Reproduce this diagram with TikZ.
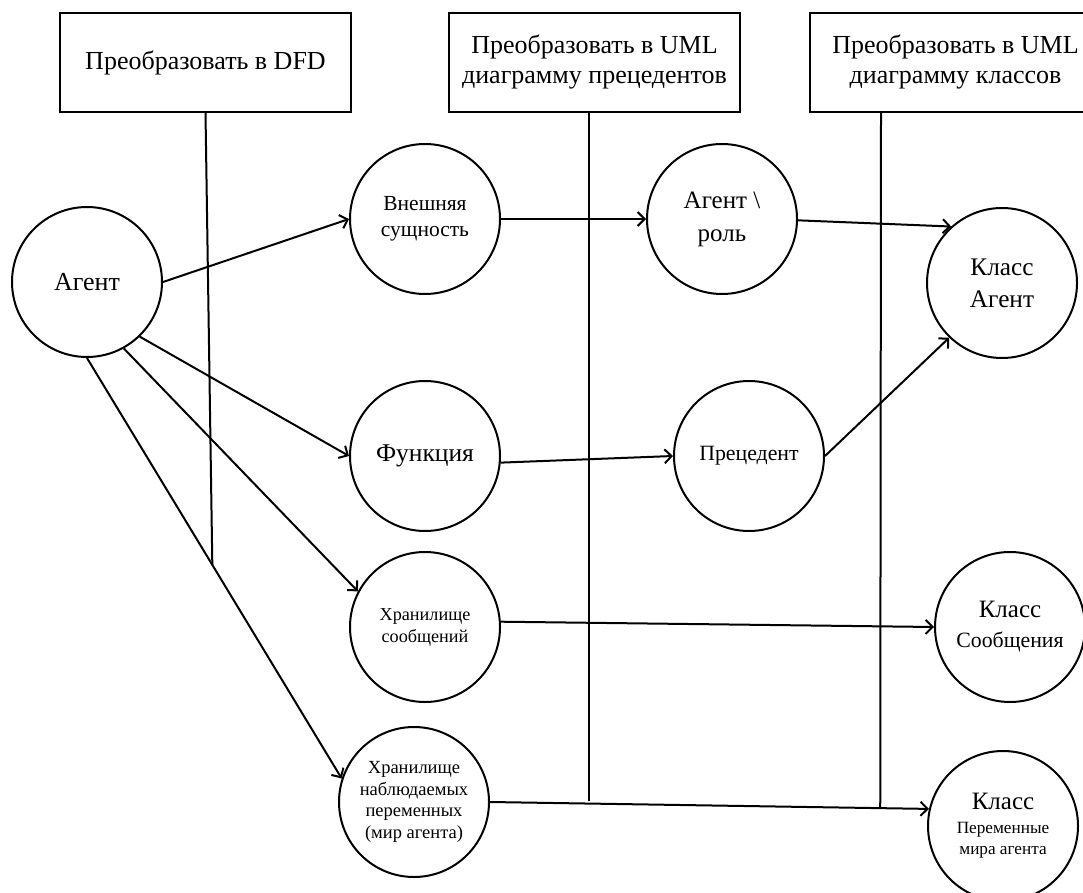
\documentclass[tikz,border=0pt]{standalone}
\usepackage{fontspec}
\setmainfont{Liberation Serif}
\usetikzlibrary{arrows.meta,calc}
\begin{document}
\begin{tikzpicture}[x=1pt,y=-1pt,
  line width=2pt,
  stage/.style={draw, minimum width=291pt, minimum height=99pt, inner sep=0pt,
    align=center, font=\fontsize{26}{30}\selectfont},
  entity/.style={draw, circle, minimum size=150pt, inner sep=0pt, align=center},
  flow/.style={-{Straight Barb[length=7pt,width=14pt]}},
]
\useasboundingbox (0,0) rectangle (1083,893);

% transformation stages
\node[stage] (dfd) at (205.5,62.5) {Преобразовать в DFD};
\node[stage] (uc)  at (594.5,62.5) {Преобразовать в UML\\диаграмму прецедентов};
\node[stage] (cls) at (955.5,62.5) {Преобразовать в UML\\диаграмму классов};

% concepts
\node[entity, font=\fontsize{26}{30}\selectfont] (agent) at (87,282) {Агент};
\node[entity, font=\fontsize{21.5}{26}\selectfont] (ext) at (425,219) {Внешняя\\сущность};
\node[entity, font=\fontsize{25.5}{30}\selectfont] (func) at (425,456) {Функция};
\node[entity, font=\fontsize{18.2}{22}\selectfont] (msg) at (425,627) {Хранилище\\сообщений};
\node[entity, font=\fontsize{18.5}{21.6}\selectfont] (obs) at (414,802)
  {Хранилище\\наблюдаемых\\переменных\\(мир агента)};
\node[entity, font=\fontsize{25}{33}\selectfont] (role) at (722,219) {Агент \textbackslash\\роль};
\node[entity, font=\fontsize{21.8}{26}\selectfont] (prec) at (749,456) {Прецедент};
\node[entity, font=\fontsize{25.3}{32}\selectfont] (cagent) at (1002,283) {Класс\\Агент};
\node[entity, font=\fontsize{21.8}{30}\selectfont] (cmsg) at (1010,627)
  {{\fontsize{25}{30}\selectfont Класс}\\Сообщения};
\node[entity, font=\fontsize{17.2}{24}\selectfont] (cvar) at (1003,826)
  {{\fontsize{25}{30}\selectfont Класс}\\Переменные\\[-3pt]мира агента};

% flows
\draw[flow] (agent.0)   -- (ext.180);
\draw[flow] (agent.-46) -- (func.180);
\draw[flow] (agent.-61) -- (msg.152);
\draw[flow] (agent.-90) -- (obs.162);
\draw[flow] (ext.0)     -- (role.180);
\draw[flow] (func.-5)   -- (prec.180);
\draw[flow] (role.-1)   -- (cagent.132);
\draw[flow] (prec.0)    -- (cagent.226);
\draw[flow] (msg.4)     -- (cmsg.180);
\draw[flow] (obs.0)     -- (cvar.167);

% stage boundaries
\coordinate (j1) at ($(agent.south)!0.492!(obs.162)$);
\draw (dfd.south) -- (j1);
\coordinate (j2top) at (589,112);
\coordinate (j2) at (589,801);
\draw (j2top) -- (j2);
\coordinate (j3top) at (881,112);
\coordinate (j3) at ($(obs.0)!0.889!(cvar.167)$);
\draw (j3top) -- (j3);
\end{tikzpicture}
\end{document}
